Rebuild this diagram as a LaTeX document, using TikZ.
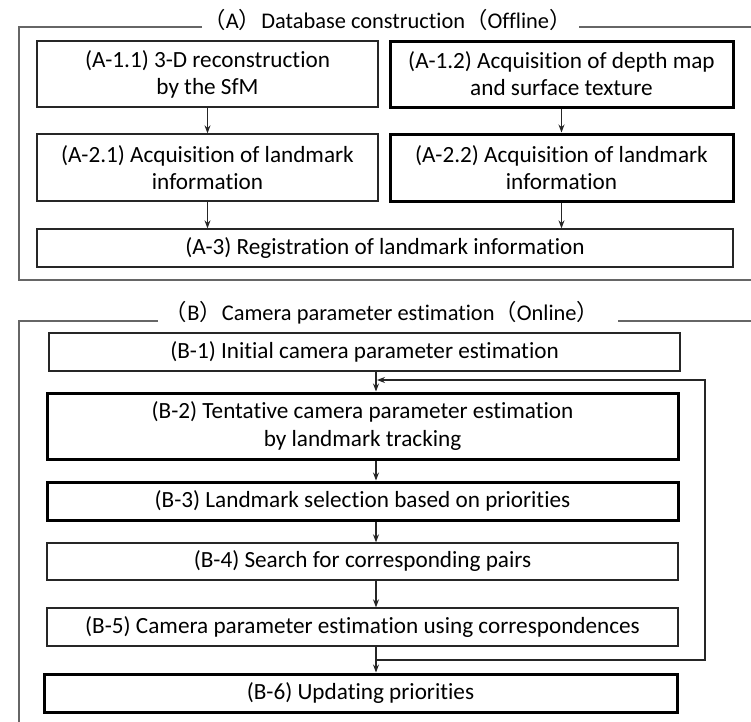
\documentclass[tikz,border=0pt]{standalone}
\usepackage{fontspec}
\setmainfont{Carlito}[Ligatures=NoCommon]
\newfontfamily\cjk{Noto Sans CJK JP}
\newcommand\lpar{{\cjk （}}
\newcommand\rpar{{\cjk ）}}
\usetikzlibrary{arrows.meta}
\tikzset{every picture/.style={line width=0.75pt}}
\tikzset{
  stepbox/.style={draw=black!85, line width=1pt, inner sep=0pt, align=center,
    font=\fontsize{17.4}{20.3}\selectfont},
  keybox/.style={stepbox, draw=black, line width=2.25pt},
  headtext/.style={inner sep=0pt, font=\fontsize{16.8}{20}\selectfont},
  flow/.style={draw=black!85, line width=0.9pt, -{Stealth[length=6pt,width=4.5pt]}},
  frameline/.style={draw=black!60, line width=1.1pt}
}

\begin{document}
\begin{tikzpicture}[x=0.75pt,y=0.75pt,yscale=-1,xscale=1]
\useasboundingbox (0,0) rectangle (751,722);
% frames
\draw[frameline] (202,27) -- (19,27) -- (19,280) -- (751,280);
\draw[frameline] (579,27) -- (751,27);
\draw[frameline] (158,321) -- (19,321) -- (19,722);
\draw[frameline] (618,321) -- (751,321);
\draw (387.5,20) node [headtext] (hA) {\lpar A\rpar Database construction\lpar Offline\rpar};
\draw (382,313) node [headtext] (hB) {\lpar B\rpar Camera parameter estimation\lpar Online\rpar};
% (A)
\draw (207.5,74) node [stepbox, minimum width=255.75pt, minimum height=49.5pt] (A11) {(A-1.1) 3-D reconstruction\\by the SfM};
\draw (561.5,74) node [keybox, minimum width=257.25pt, minimum height=49.5pt] (A12) {(A-1.2) Acquisition of depth map\\and surface texture};
\draw (207.5,167.5) node [stepbox, minimum width=255.75pt, minimum height=50.25pt] (A21) {(A-2.1) Acquisition of landmark\\information};
\draw (561.5,167.5) node [keybox, minimum width=257.25pt, minimum height=50.25pt] (A22) {(A-2.2) Acquisition of landmark\\information};
\draw (385,248) node [stepbox, minimum width=522pt, minimum height=28.5pt] (A3) {(A-3) Registration of landmark information};
\draw[flow] (A11) -- (A21);
\draw[flow] (A12) -- (A22);
\draw[flow] (A21.south) -- (A3.north -| A21.south);
\draw[flow] (A22.south) -- (A3.north -| A22.south);
% (B)
\draw (364.5,352) node [stepbox, minimum width=473.25pt, minimum height=28.5pt] (B1) {(B-1) Initial camera parameter estimation};
\draw (362.5,426) node [keybox, minimum width=473.25pt, minimum height=49.5pt] (B2) {(B-2) Tentative camera parameter estimation\\by landmark tracking};
\draw (362.5,501) node [keybox, minimum width=473.25pt, minimum height=28.5pt] (B3) {(B-3) Landmark selection based on priorities};
\draw (362.5,561.5) node [stepbox, minimum width=473.25pt, minimum height=27.75pt] (B4) {(B-4) Search for corresponding pairs};
\draw (362.5,627) node [stepbox, minimum width=473.25pt, minimum height=28.5pt] (B5) {(B-5) Camera parameter estimation using correspondences};
\draw (360.5,693) node [keybox, minimum width=474.75pt, minimum height=28.5pt] (B6) {(B-6) Updating priorities};
\coordinate (bx) at (376,0);
\coordinate (loopin) at (377,380);
\coordinate (loopout) at (376,660);
\draw[flow] (B1.south -| bx) -- (B2.north -| bx);
\draw[flow] (B2.south -| bx) -- (B3.north -| bx);
\draw[flow] (B3.south -| bx) -- (B4.north -| bx);
\draw[flow] (B4.south -| bx) -- (B5.north -| bx);
\draw[flow] (B5.south -| bx) -- (B6.north -| bx);
\draw[flow] (loopout) -- (705,660) -- (705,380) -- (loopin);
\end{tikzpicture}
\end{document}
